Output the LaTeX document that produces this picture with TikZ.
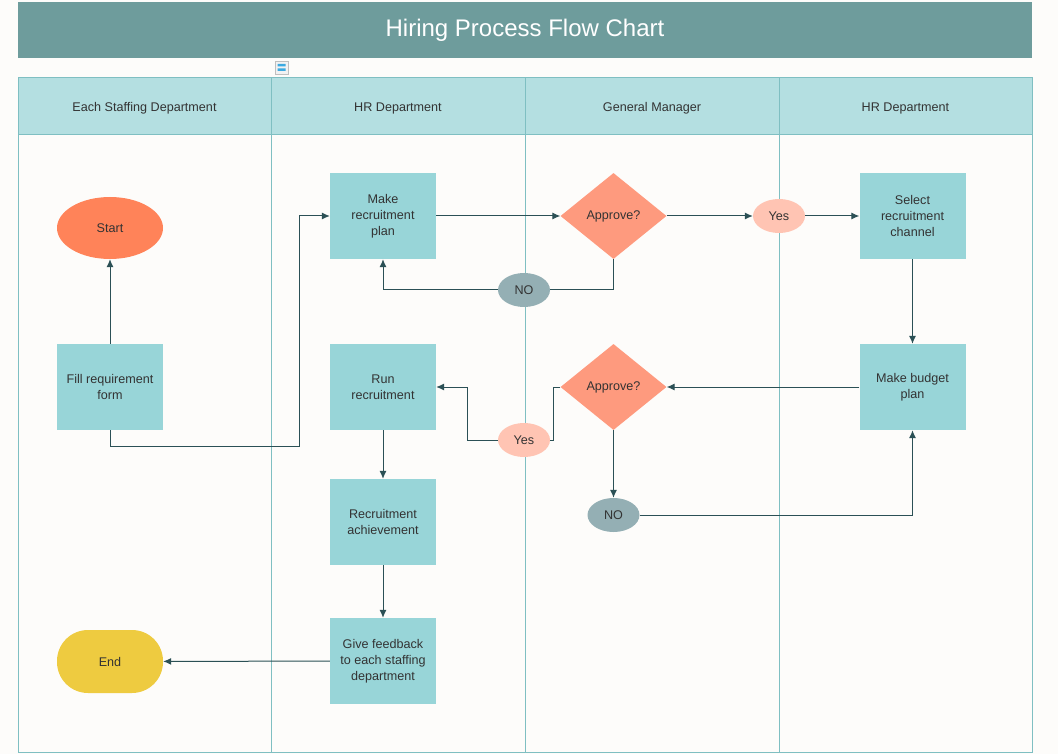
\documentclass[tikz,border=0pt]{standalone}
\usepackage{fontspec}
\setmainfont{Liberation Sans}
\usetikzlibrary{shapes,arrows,arrows.meta}

\definecolor{grund}{RGB}{253,252,250}
\definecolor{titel}{RGB}{110,156,156}
\definecolor{kopf}{RGB}{180,223,225}
\definecolor{rahmen}{RGB}{127,191,194}
\definecolor{kasten}{RGB}{152,213,216}
\definecolor{startfarbe}{RGB}{255,131,89}
\definecolor{raute}{RGB}{254,154,126}
\definecolor{jafarbe}{RGB}{255,196,179}
\definecolor{neinfarbe}{RGB}{148,175,180}
\definecolor{endefarbe}{RGB}{238,203,64}
\definecolor{linie}{RGB}{43,80,85}
\definecolor{schrift}{RGB}{51,51,51}
\definecolor{symbol}{RGB}{60,170,225}

\begin{document}
\begin{tikzpicture}[x=1pt, y=-1pt,
			>={Latex[length=8pt,width=7pt]},   %Pfeilspitzen
			font=\fontsize{12.6}{16}\selectfont, text=schrift,
			prozess/.style={rectangle, fill=kasten, minimum width=106pt, minimum height=86pt, inner sep=2pt, align=center},
			frage/.style={diamond, fill=raute, minimum width=106pt, minimum height=86pt, inner sep=0pt},
			ja/.style={ellipse, fill=jafarbe, minimum width=52pt, minimum height=34pt, inner sep=0pt},
			nein/.style={ellipse, fill=neinfarbe, minimum width=52pt, minimum height=34pt, inner sep=0pt},
			verbindung/.style={draw=linie, line width=1pt}]
			%Hintergrund
			\useasboundingbox (0,0) rectangle (1058,754);
			\fill[grund] (0,0) rectangle (1058,754);
			%Titel
			\fill[titel] (18,2) rectangle (1032,58);
			\node[text=white, font=\fontsize{24}{28}\selectfont] (titel) at (525,30) {Hiring Process Flow Chart};
			\draw[color=gray!50, fill=gray!10] (275,61) rectangle (288,74);
			\fill[symbol] (277.5,64) rectangle (285.5,66.5) (277.5,68.5) rectangle (285.5,71);
			%Bahnen zeichnen
			\fill[kopf] (18,78) rectangle (1032,134);
			\draw[rahmen] (18,134) -- (1032,134);
			\foreach \x in {271,525,779} \draw[rahmen] (\x,78) -- (\x,752);
			\draw[rahmen, line width=1pt] (18,78) rectangle (1032,752);
			\foreach \i/\x/\label in {1/144.5/Each Staffing Department,2/398/HR Department,3/652/General Manager,4/905.5/HR Department} \node (kopf\i) at (\x,108) {\label};
			%Knoten
			\node[ellipse, fill=startfarbe, minimum width=106pt, minimum height=62pt] (start) at (110,228) {Start};
			\node[prozess] (antrag) at (110,387) {Fill requirement\\form};
			\node[prozess] (plan) at (383,216) {Make\\recruitment\\plan};
			\node[frage] (ok1) at (613.5,216) {Approve?};
			\node[ja] (ja1) at (779,216) {Yes};
			\node[prozess] (kanal) at (912.5,216) {Select\\recruitment\\channel};
			\node[nein] (nein1) at (524,290) {NO};
			\node[prozess] (lauf) at (383,387) {Run\\recruitment};
			\node[frage] (ok2) at (613.5,387) {Approve?};
			\node[prozess] (budget) at (912.5,387) {Make budget\\plan};
			\node[ja] (ja2) at (524,440) {Yes};
			\node[nein] (nein2) at (613.5,515) {NO};
			\node[prozess] (erfolg) at (383,522) {Recruitment\\achievement};
			\node[prozess] (feedback) at (383,661) {Give feedback\\to each staffing\\department};
			\node[rectangle, rounded corners=31pt, fill=endefarbe, minimum width=106pt, minimum height=63pt] (ende) at (110,661.5) {End};
			%Verbindungen
			\coordinate (knick) at (299,446);
			\draw[verbindung, ->] (antrag) -- (start);
			\draw[verbindung, ->] (antrag.south) |- (knick) |- (plan.west);
			\draw[verbindung, ->] (plan) -- (ok1);
			\draw[verbindung, ->] (ok1) -- (ja1);
			\draw[verbindung, ->] (ja1) -- (kanal);
			\draw[verbindung] (ok1.south) |- (nein1.east);
			\draw[verbindung, ->] (nein1.west) -| (plan.south);
			\draw[verbindung, ->] (kanal) -- (budget);
			\draw[verbindung, ->] (budget) -- (ok2);
			\draw[verbindung] (ok2.west) -- ++(-7,0) |- (ja2.east);
			\draw[verbindung, ->] (ja2.west) -- ++(-30,0) |- (lauf.east);
			\draw[verbindung, ->] (ok2.south) -- (nein2.north);
			\draw[verbindung, ->] (nein2.east) -| (budget.south);
			\draw[verbindung, ->] (lauf) -- (erfolg);
			\draw[verbindung, ->] (erfolg) -- (feedback);
			\draw[verbindung, ->] (feedback) -- (ende);
		\end{tikzpicture}
\end{document}
